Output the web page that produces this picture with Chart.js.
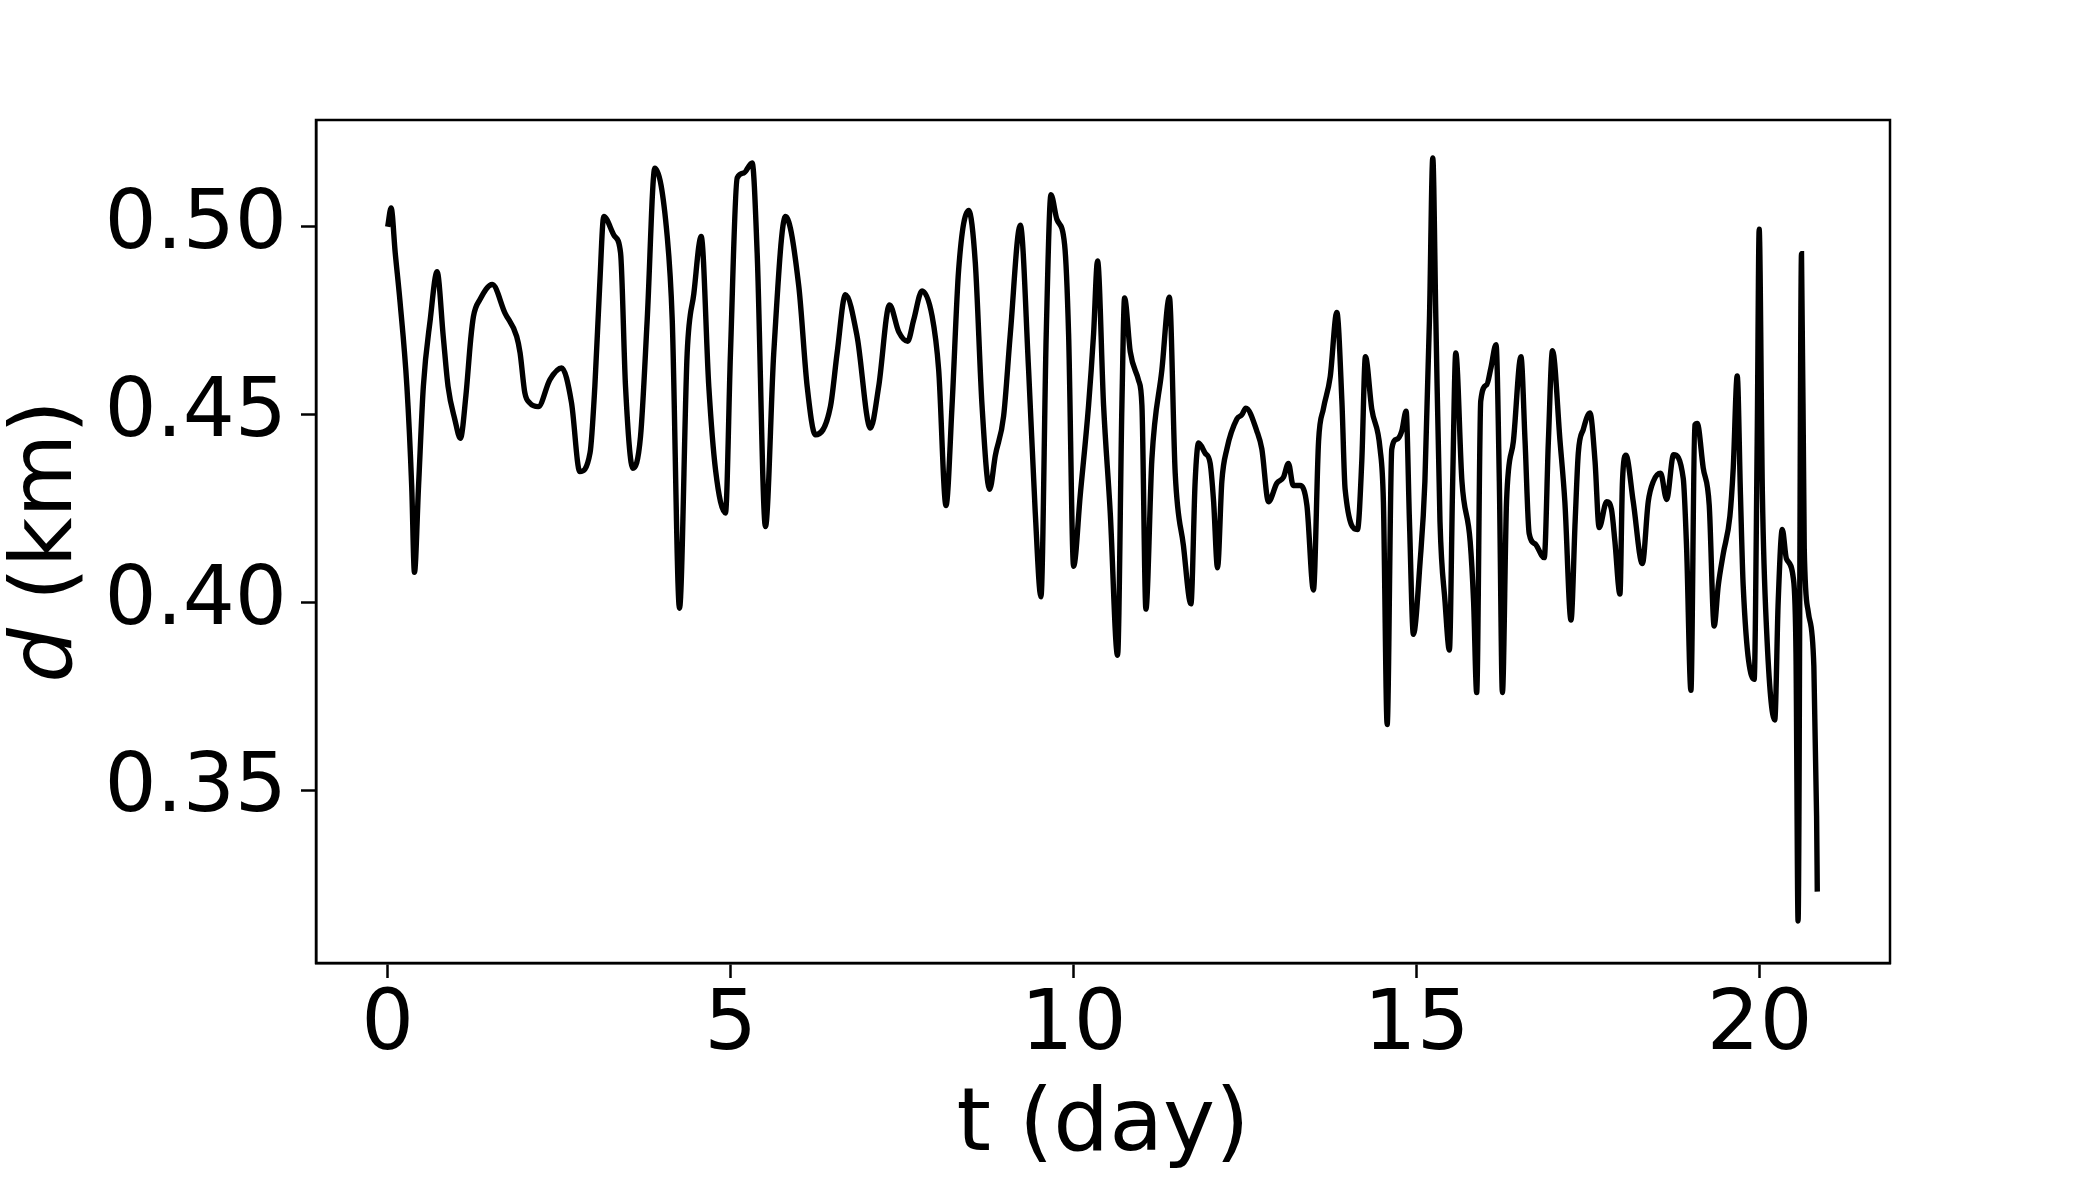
<!DOCTYPE html>
<html>
<head>
<meta charset="utf-8">
<script src="https://cdn.jsdelivr.net/npm/chart.js@4.4.1/dist/chart.umd.min.js"></script>
<style>
  html, body { margin: 0; padding: 0; background: #fff; }
  #wrap { width: 2100px; height: 1200px; }
</style>
</head>
<body>
<div id="wrap"><canvas id="distChart" width="2100" height="1200"></canvas></div>
<script>
// time in days
const tDays = [
  0, 0.05, 0.11, 0.18, 0.28, 0.35, 0.39, 0.45, 0.52, 0.62, 0.72, 0.81, 0.88, 0.98, 1.06, 1.14, 1.21, 1.25,
  1.345, 1.525, 1.71, 1.88, 1.93, 2.0, 2.07, 2.195, 2.365, 2.535, 2.68, 2.8, 2.95, 3.02, 3.09, 3.15,
  3.31, 3.395, 3.467, 3.574, 3.686, 3.783, 3.895, 4.075, 4.148, 4.254, 4.366, 4.463, 4.57, 4.681, 4.779,
  4.924, 4.997, 5.095, 5.19, 5.313, 5.386, 5.507, 5.628, 5.799, 5.993, 6.115, 6.236, 6.454, 6.552, 6.673,
  6.843, 7.037, 7.158, 7.316, 7.45, 7.58, 7.668, 7.79, 7.936, 8.032, 8.139, 8.227, 8.323, 8.469, 8.566,
  8.664, 8.775, 8.858, 8.979, 9.076, 9.222, 9.343, 9.44, 9.523, 9.6, 9.669, 9.756, 9.868, 9.926, 9.999,
  10.096, 10.217, 10.29, 10.348, 10.436, 10.533, 10.64, 10.703, 10.742, 10.825, 10.946, 10.995, 11.053,
  11.14, 11.286, 11.395, 11.48, 11.6, 11.709, 11.771, 11.82, 11.917, 11.99, 12.04, 12.097, 12.16, 12.233,
  12.379, 12.45, 12.51, 12.67, 12.743, 12.84, 12.962, 13.058, 13.131, 13.2, 13.3, 13.4, 13.495, 13.57,
  13.64, 13.74, 13.836, 13.91, 13.957, 14.137, 14.2, 14.253, 14.345, 14.467, 14.515, 14.57, 14.637, 14.71,
  14.783, 14.846, 14.895, 14.952, 15.05, 15.12, 15.186, 15.235, 15.28, 15.34, 15.414, 15.477, 15.525,
  15.57, 15.66, 15.78, 15.83, 15.875, 15.934, 16.02, 16.08, 16.157, 16.205, 16.25, 16.31, 16.41, 16.52,
  16.58, 16.64, 16.725, 16.86, 16.92, 16.98, 17.09, 17.16, 17.25, 17.31, 17.356, 17.43, 17.526, 17.6,
  17.66, 17.77, 17.84, 17.89, 17.963, 18.0, 18.05, 18.157, 18.29, 18.376, 18.45, 18.556, 18.644, 18.745,
  18.886, 18.935, 18.998, 19.055, 19.09, 19.177, 19.265, 19.337, 19.396, 19.469, 19.566, 19.615, 19.673,
  19.72, 19.76, 19.92, 19.964, 19.993, 20.04, 20.1, 20.22, 20.27, 20.33, 20.39, 20.49, 20.53, 20.56,
  20.61, 20.65, 20.71, 20.79, 20.83, 20.84
];

// distance in km
const dKm = [
  0.500, 0.505, 0.493, 0.480, 0.4575, 0.431, 0.408, 0.431, 0.4575, 0.4752, 0.488, 0.4708, 0.4575, 0.4486,
  0.4437, 0.455, 0.470, 0.4761, 0.4806, 0.4846, 0.477, 0.4708, 0.4664, 0.4557, 0.4531, 0.4521, 0.4593,
  0.4624, 0.4531, 0.4348, 0.4398, 0.4575, 0.4841, 0.5027, 0.4974, 0.493, 0.4575, 0.4357, 0.4442, 0.4752,
  0.5156, 0.4974, 0.4752, 0.3984, 0.4664, 0.4822, 0.4974, 0.4575, 0.4353, 0.4238, 0.4664, 0.513, 0.5143,
  0.517, 0.493, 0.4202, 0.4664, 0.5027, 0.4841, 0.4575, 0.4446, 0.4521, 0.4664, 0.4819, 0.4708, 0.4464,
  0.4575, 0.4792, 0.472, 0.4695, 0.4752, 0.4829, 0.4762, 0.4619, 0.4258, 0.4524, 0.4885, 0.5043, 0.4904,
  0.4524, 0.4301, 0.4391, 0.4496, 0.4714, 0.5004, 0.4619, 0.4239, 0.4015, 0.4714, 0.5085, 0.5019, 0.4952,
  0.4714, 0.4096, 0.4286, 0.4524, 0.4714, 0.4909, 0.4524, 0.4239, 0.3859, 0.4524, 0.481, 0.4667, 0.4591,
  0.4524, 0.3982, 0.4381, 0.4619, 0.4812, 0.4344, 0.4151, 0.3996, 0.4323, 0.4424, 0.4397, 0.437, 0.4268,
  0.4092, 0.4322, 0.4408, 0.4488, 0.4499, 0.4517, 0.4456, 0.4408, 0.4268, 0.4317, 0.4333, 0.437, 0.4311,
  0.4311, 0.4258, 0.4033, 0.4429, 0.4515, 0.4601, 0.4772, 0.4536, 0.4301, 0.4194, 0.4376, 0.4654, 0.4515,
  0.4408, 0.4268, 0.3675, 0.4408, 0.4434, 0.4456, 0.4509, 0.4215, 0.3915, 0.4108, 0.4322, 0.475, 0.5183,
  0.475, 0.4215, 0.4001, 0.3873, 0.4322, 0.4664, 0.4322, 0.4162, 0.4001, 0.376, 0.4536, 0.4579, 0.4622,
  0.4686, 0.4322, 0.376, 0.4268, 0.4429, 0.4654, 0.4429, 0.4183, 0.4156, 0.4119, 0.4429, 0.467, 0.4429,
  0.4268, 0.3953, 0.4215, 0.4397, 0.4461, 0.4504, 0.4376, 0.4199, 0.4268, 0.4247, 0.4162, 0.4022, 0.4322,
  0.4392, 0.4268, 0.4103, 0.4268, 0.4322, 0.4344, 0.4274, 0.4393, 0.433, 0.4144, 0.3766, 0.4472, 0.4476,
  0.4358, 0.4258, 0.3937, 0.4044, 0.4129, 0.4229, 0.4358, 0.4603, 0.4287, 0.4044, 0.3795, 0.4429, 0.4993,
  0.4287, 0.393, 0.3687, 0.4001, 0.4194, 0.4116, 0.4065, 0.3859, 0.3152, 0.4928, 0.4144, 0.3973, 0.383,
  0.3431, 0.323
];

const xTicks = [0, 5, 10, 15, 20];
const yTicks = [0.35, 0.40, 0.45, 0.50];

const FONT = 'DejaVu Sans';

// top and right spines
const framePlugin = {
  id: 'frame',
  afterDatasetsDraw(chart) {
    const { ctx, chartArea: a } = chart;
    ctx.save();
    ctx.strokeStyle = '#000';
    ctx.lineWidth = 2.5;
    ctx.strokeRect(a.left, a.top, a.right - a.left, a.bottom - a.top);
    ctx.restore();
  }
};

// y title with italic d
const yTitlePlugin = {
  id: 'yTitle',
  afterDraw(chart) {
    const { ctx, chartArea: a } = chart;
    const cy = (a.top + a.bottom) / 2;
    ctx.save();
    ctx.translate(71, cy);
    ctx.rotate(-Math.PI / 2);
    ctx.fillStyle = '#000';
    ctx.textBaseline = 'alphabetic';
    ctx.textAlign = 'left';
    ctx.font = 'italic 86px "' + FONT + '"';
    const w1 = ctx.measureText('d').width;
    ctx.font = '86px "' + FONT + '"';
    const w2 = ctx.measureText(' (km)').width;
    let x = -(w1 + w2) / 2;
    ctx.font = 'italic 86px "' + FONT + '"';
    ctx.fillText('d', x, 0);
    ctx.font = '86px "' + FONT + '"';
    ctx.fillText(' (km)', x + w1, 0);
    ctx.restore();
  }
};

const ctx = document.getElementById('distChart').getContext('2d');
new Chart(ctx, {
  type: 'line',
  data: {
    datasets: [{
      data: tDays.map((t, i) => ({ x: t, y: dKm[i] })),
      borderColor: '#000',
      borderWidth: 5.4,
      pointRadius: 0,
      fill: false,
      cubicInterpolationMode: 'monotone'
    }]
  },
  options: {
    responsive: false,
    animation: false,
    layout: { padding: { left: 0, right: 210, top: 120, bottom: 0 } },
    plugins: {
      legend: { display: false },
      tooltip: { enabled: false }
    },
    scales: {
      x: {
        type: 'linear',
        min: -1.045,
        max: 21.9,
        afterBuildTicks: s => { s.ticks = xTicks.map(v => ({ value: v })); },
        afterFit: s => { s.height = 237; },
        ticks: {
          color: '#000',
          font: { family: FONT, size: 83 },
          padding: 0,
          maxRotation: 0,
          autoSkip: false,
          callback: v => String(v)
        },
        grid: { drawOnChartArea: false, drawTicks: true, tickLength: 15, tickWidth: 2.5, tickColor: '#000' },
        border: { display: true, color: '#000', width: 2.5 },
        title: {
          display: true,
          text: 't (day)',
          color: '#000',
          font: { family: FONT, size: 88 },
          padding: { top: 0, bottom: 20 }
        }
      },
      y: {
        min: 0.304,
        max: 0.5284,
        afterBuildTicks: s => { s.ticks = yTicks.map(v => ({ value: v })); },
        afterFit: s => { s.width = 316; },
        ticks: {
          color: '#000',
          font: { family: FONT, size: 82 },
          padding: 14,
          autoSkip: false,
          callback: v => v.toFixed(2)
        },
        grid: { drawOnChartArea: false, drawTicks: true, tickLength: 15, tickWidth: 2.5, tickColor: '#000' },
        border: { display: true, color: '#000', width: 2.5 }
      }
    }
  },
  plugins: [framePlugin, yTitlePlugin]
});
</script>
</body>
</html>
